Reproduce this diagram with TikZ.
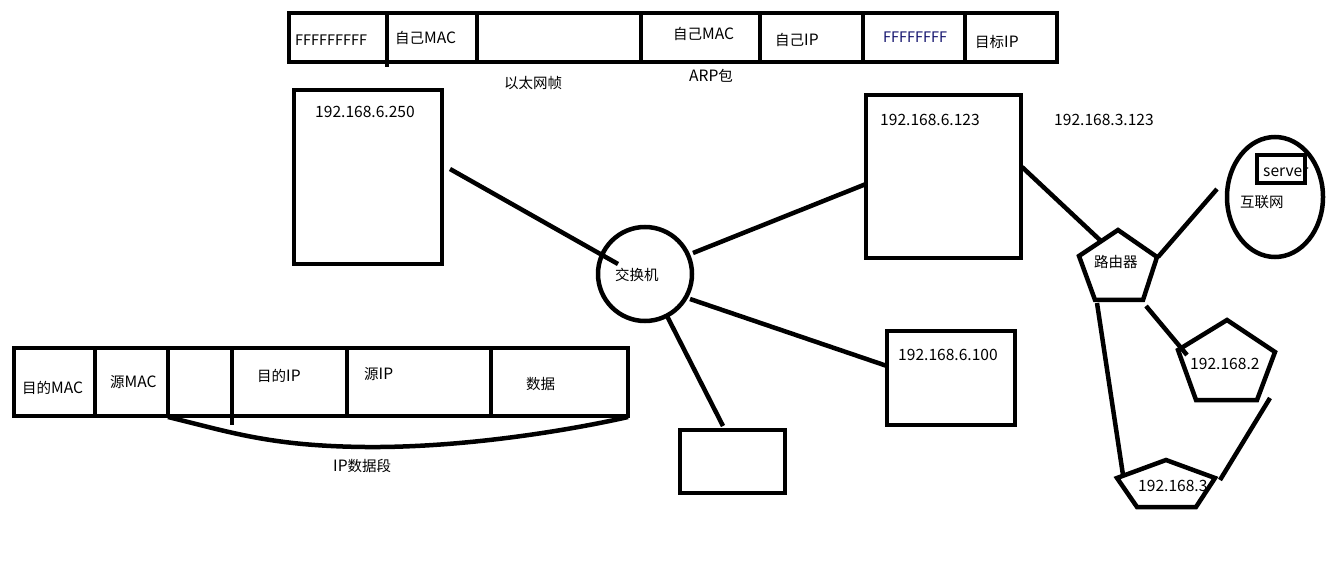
\documentclass[tikz,border=0pt]{standalone}
\usepackage{fontspec}
\usetikzlibrary{shapes.geometric}
\setmainfont{Noto Sans CJK SC}
\definecolor{inknavy}{RGB}{20,20,110}
% Chinese characters are set slightly smaller than the Latin ones
\newcommand{\zh}[1]{{\fontsize{14.5}{17}\selectfont #1}}
\begin{document}
\begin{tikzpicture}[x=1pt,y=-1pt,
  wire/.style={line width=4.5pt},
  lbl/.style={anchor=west, inner sep=0pt, font=\fontsize{15.6}{18}\selectfont},
  boxnode/.style={draw, line width=4.5pt, inner sep=0pt, outer sep=0pt, anchor=north west}]
\useasboundingbox (0,0) rectangle (1341,577);

% ---- Ethernet frame carrying an ARP request ----
\node[boxnode, minimum width=768, minimum height=49] (arpframe) at (289,13) {};
\draw[wire] (387,13) -- (387,67);
\foreach \xx in {477,641,760,863,965} \draw[wire] (\xx,13) -- (\xx,62);
\node[lbl] (fdst)  at (295,40) {\zh{FFFFFFFFF}};
\node[lbl] (fsrc)  at (395,38) {\zh{自己}MAC};
\node[lbl] (asmac) at (673,34) {\zh{自己}MAC};
\node[lbl] (asip)  at (775,40) {\zh{自己}IP};
\node[lbl, text=inknavy] (atmac) at (883,37) {\zh{FFFFFFFF}};
\node[lbl] (atip)  at (975,42) {\zh{目标}IP};
\node[lbl] (ethlbl) at (504,83) {\zh{以太网帧}};
\node[lbl] (arplbl) at (689,76) {ARP\zh{包}};

% ---- hosts on the LAN ----
\node[boxnode, minimum width=148, minimum height=174] (h250) at (294,90) {};
\node[lbl] (h250ip) at (315,112) {192.168.6.250};
\node[boxnode, minimum width=155, minimum height=163] (h123) at (866,95) {};
\node[lbl] (h123ip) at (880,120) {192.168.6.123};
\node[lbl] (h123ip3) at (1054,120) {192.168.3.123};
\node[boxnode, minimum width=128, minimum height=94] (h100) at (887,331) {};
\node[lbl] (h100ip) at (898,355) {192.168.6.100};
\node[boxnode, minimum width=105, minimum height=63] (hx) at (680,430) {};

% ---- switch ----
\node[draw, circle, line width=4.5pt, minimum size=94, inner sep=0pt] (sw) at (645,274) {};
\node[lbl] (swlbl) at (615,275) {\zh{交换机}};

\coordinate (a1) at (450,169);  \coordinate (a2) at (618,264);
\coordinate (b1) at (693,253);  \coordinate (b2) at (866,184);
\coordinate (c1) at (690,299);  \coordinate (c2) at (887,366);
\coordinate (d1) at (667,316);  \coordinate (d2) at (723,426);
\draw[wire] (a1) -- (a2);
\draw[wire] (b1) -- (b2);
\draw[wire] (c1) -- (c2);
\draw[wire] (d1) -- (d2);

% ---- router and neighbouring networks ----
\draw[wire] (1118,230) -- (1157,257) -- (1143,300) -- (1095,300) -- (1079,256) -- cycle;
\node[lbl] (rt) at (1094,262) {\zh{路由器}};
\draw[wire] (1227,320) -- (1275,352) -- (1257,400) -- (1196,400) -- (1178,350) -- cycle;
\node[lbl] (net2) at (1190,364) {192.168.2};
\draw[wire] (1166,460) -- (1215,478) -- (1196,507) -- (1137,507) -- (1117,478) -- cycle;
\node[lbl] (net3) at (1138,486) {192.168.3};

% internet cloud with a server
\node[draw, ellipse, line width=4.5pt, minimum width=96, minimum height=120, inner sep=0pt] (inet) at (1275,197) {};
\node[lbl] (srvlbl) at (1263,172) {server};
\node[boxnode, minimum width=48, minimum height=28] (srv) at (1257,155) {};
\node[lbl] (inetlbl) at (1240,202) {\zh{互联网}};

\coordinate (e1) at (1022,167); \coordinate (e2) at (1102,242);
\coordinate (f1) at (1158,257); \coordinate (f2) at (1217,189);
\coordinate (g1) at (1146,306); \coordinate (g2) at (1187,355);
\coordinate (k1) at (1097,303); \coordinate (k2) at (1123,475);
\coordinate (m1) at (1270,398); \coordinate (m2) at (1220,480);
\draw[wire] (e1) -- (e2);
\draw[wire] (f1) -- (f2);
\draw[wire] (g1) -- (g2);
\draw[wire] (k1) -- (k2);
\draw[wire] (m1) -- (m2);

% ---- IP packet inside an Ethernet frame ----
\node[boxnode, minimum width=614, minimum height=68] (ipframe) at (14,348) {};
\foreach \xx in {95,168,347,491} \draw[wire] (\xx,348) -- (\xx,416);
\draw[wire] (232,348) -- (232,425);
\node[lbl] (dmac) at (22,388) {\zh{目的}MAC};
\node[lbl] (smac) at (110,382) {\zh{源}MAC};
\node[lbl] (dip)  at (257,376) {\zh{目的}IP};
\node[lbl] (sip)  at (364,374) {\zh{源}IP};
\node[lbl] (data) at (526,384) {\zh{数据}};
\coordinate (p1) at (168,417); \coordinate (p2) at (628,417);
\draw[wire] (p1) .. controls (230,432) and (270,446) .. (365,447)
               .. controls (470,448) and (580,428) .. (p2);
\node[lbl] (seglbl) at (333,466) {IP\zh{数据段}};
\end{tikzpicture}
\end{document}
